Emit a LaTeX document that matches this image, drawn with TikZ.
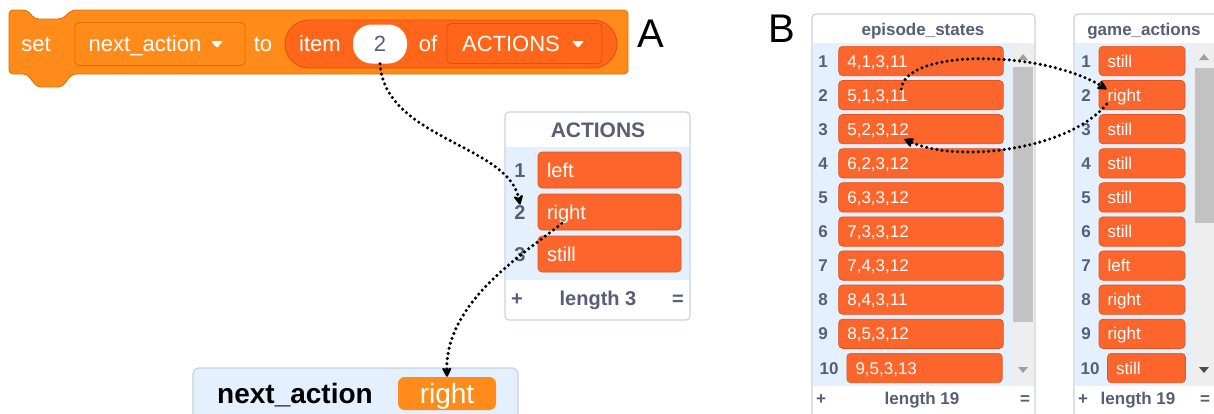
\documentclass[tikz,border=0pt]{standalone}
\usepackage{fontspec}
\setmainfont{Liberation Sans}
\usetikzlibrary{arrows.meta,calc}
\definecolor{blk}{HTML}{FF8C1A}
\definecolor{blkdark}{HTML}{DB6E00}
\definecolor{listor}{HTML}{FF661A}
\definecolor{listdark}{HTML}{E04F0C}
\definecolor{itemor}{HTML}{FC662C}
\definecolor{itemborder}{HTML}{E2531A}
\definecolor{monbody}{HTML}{E5F0FF}
\definecolor{monb}{HTML}{C9D1DC}
\definecolor{mgray}{HTML}{575E75}
\definecolor{trackc}{HTML}{EEEEEE}
\definecolor{thumbc}{HTML}{C2C2C2}
\definecolor{arrc}{HTML}{A0A0A0}
\tikzset{
  capc/.style={inner sep=0pt, text depth=0pt},
  btxt/.style={capc, text height=11.9pt, text=white, font=\fontsize{16.5}{19}\selectfont},
  field/.style={draw=blkdark, fill=blk, rounded corners=3pt, line width=0.6pt, inner sep=0pt},
  lfield/.style={draw=listdark, fill=listor, rounded corners=3pt, line width=0.6pt, inner sep=0pt},
  pill/.style={draw=listdark, fill=listor, rounded corners=18pt, line width=0.6pt, inner sep=0pt},
  monframe/.style={draw=monb, fill=white, rounded corners=3pt, line width=0.8pt},
  hdrA/.style={capc, text height=11.3pt, text=mgray, font=\bfseries\fontsize{15.75}{18}\selectfont},
  idxA/.style={capc, text height=10.8pt, text=mgray, font=\bfseries\fontsize{15}{18}\selectfont},
  itemA/.style={fill=itemor, draw=itemborder, line width=0.5pt, rounded corners=3pt,
     text=white, font=\fontsize{15}{18}\selectfont, align=left,
     inner xsep=6.75pt, inner ysep=0pt, text width=93.75pt, minimum height=27pt,
     text height=10.8pt, text depth=0pt},
  hdrB/.style={capc, text height=9.2pt, text=mgray, font=\bfseries\fontsize{12.75}{15}\selectfont},
  idxB/.style={capc, text height=9.2pt, text=mgray, font=\bfseries\fontsize{12.75}{15}\selectfont},
  itemB/.style={fill=itemor, draw=itemborder, line width=0.5pt, rounded corners=3pt,
     text=white, font=\fontsize{12.75}{15}\selectfont, align=left,
     inner xsep=6.5pt, inner ysep=0pt, minimum height=22pt,
     text height=9.2pt, text depth=0pt},
  dotarrow/.style={draw=black, line width=2.6pt, line cap=round,
     dash pattern=on 0pt off 3.9pt,
     -{Stealth[length=9pt,width=9pt,round]}},
  biglabel/.style={capc, text height=21.6pt, text=black, font=\fontsize{30}{34}\selectfont}
}
\begin{document}
\begin{tikzpicture}[x=0.75pt,y=-0.75pt]
\clip (0,0) rectangle (1214,414);
\fill[white] (0,0) rectangle (1214,414);

% ---------------- Panel A: set block ----------------
\draw[fill=blk, draw=blkdark, line width=0.6pt, rounded corners=3pt]
  (9,10) -- (27,10) -- (35,19) -- (62,19) -- (72,10) -- (628,10) -- (628,74)
  -- (72,74) -- (62,87) -- (37,87) -- (27,74) -- (9,74) -- cycle;
\node[btxt] (settxt) at (36,44) {set};
\node[field, minimum width=127.5pt, minimum height=32.25pt] (varf) at (160,44) {};
\node[btxt] (vartxt) at (145,44) {next\_action};
\fill[white, rounded corners=0.8pt] (211,41) -- (223,41) -- (217,48) -- cycle;
\node[btxt] (totxt) at (263,44) {to};
\node[pill, minimum width=249pt, minimum height=36pt] (itemr) at (451,44) {};
\node[btxt] (itemtxt) at (320,44) {item};
\node[fill=white, rounded corners=14pt, minimum width=40.5pt, minimum height=29.25pt,
      inner sep=0pt, text=mgray, text height=11.9pt, text depth=0pt,
      font=\fontsize{16.5}{19}\selectfont] (two) at (380,44) {2};
\node[btxt] (oftxt) at (428,44) {of};
\node[lfield, minimum width=116.25pt, minimum height=30pt] (actf) at (524.5,43.5) {};
\node[btxt] (acttxt) at (511,44) {ACTIONS};
\fill[white, rounded corners=0.8pt] (572,41) -- (584,41) -- (578,48) -- cycle;
\node[biglabel] (labA) at (651,33) {A};

% ---------------- ACTIONS monitor ----------------
\draw[monframe] (505,112) rectangle (690,320);
\fill[monbody] (505.6,147) rectangle (689.4,280);
\node[hdrA] (actHdr) at (598,130) {ACTIONS};
\foreach \i/\t in {1/left,2/right,3/still}{
  \pgfmathsetmacro\yy{170+42*(\i-1)}
  \node[idxA] (ai\i) at (520,\yy) {\i};
  \node[itemA] (act\i) at (609.5,\yy) {\t};
}
\node[idxA] (aplus) at (517,298) {+};
\node[idxA] (alen) at (598,298) {length 3};
\node[idxA] (aeq) at (678,298) {=};

% ---------------- next_action monitor ----------------
\draw[draw=monb, fill=monbody, rounded corners=4pt, line width=0.8pt] (193,368) rectangle (518,440);
\node[capc, text height=15.1pt, text=black, font=\bfseries\fontsize{21}{24}\selectfont] (navlab) at (295,393) {next\_action};
\node[fill=blk, rounded corners=5pt, minimum width=73.5pt, minimum height=24.75pt,
      inner sep=0pt, text=white, text height=15.1pt, text depth=0pt,
      font=\fontsize{21}{24}\selectfont] (navval) at (447,393.5) {right};

% arrows in A
\draw[dotarrow] (two.south) .. controls +(5,75) and +(-12,-60) .. (ai2.north);
\draw[dotarrow] ($(act2.south west)+(24,-7)$) .. controls +(-32,27) and +(-2,-77) .. (navval.north);

% ---------------- Panel B ----------------
\node[biglabel] (labB) at (782,28) {B};

% episode_states
\draw[monframe] (812,14) rectangle (1035,440);
\fill[monbody] (812.6,43) rectangle (1034.4,386);
\fill[trackc] (1011,44) rectangle (1034.4,385);
\fill[thumbc] (1013,67) rectangle (1033,322);
\fill[arrc] (1018,60) -- (1028,60) -- (1023,54) -- cycle;
\fill[arrc] (1018,367) -- (1028,367) -- (1023,373) -- cycle;
\node[hdrB] (esHdr) at (923,29) {episode\_states};
\foreach \i/\t in {1/{4,1,3,11},2/{5,1,3,11},3/{5,2,3,12},4/{6,2,3,12},5/{6,3,3,12},
                   6/{7,3,3,12},7/{7,4,3,12},8/{8,4,3,11},9/{8,5,3,12}}{
  \pgfmathsetmacro\yy{61+34.1*(\i-1)}
  \node[idxB] (esi\i) at (823,\yy) {\i};
  \node[itemB, text width=110.5pt] (es\i) at (921,\yy) {\t};
}
\node[idxB] (esi10) at (829,368) {10};
\node[itemB, text width=103.5pt] (es10) at (924.5,368) {9,5,3,13};
\node[idxB] (esplus) at (821,398) {+};
\node[idxB] (eslen) at (922,398) {length 19};
\node[idxB] (eseq) at (1025,398) {=};

% game_actions
\draw[monframe] (1074,14) rectangle (1240,440);
\fill[monbody] (1074.6,43) rectangle (1239,386);
\fill[trackc] (1192,44) rectangle (1214,385);
\fill[thumbc] (1195,68) rectangle (1214,223);
\fill[arrc] (1199,60) -- (1209,60) -- (1204,54) -- cycle;
\fill[black!70] (1199,367) -- (1209,367) -- (1204,373) -- cycle;
\node[hdrB] (gaHdr) at (1144,29) {game\_actions};
\foreach \i/\t in {1/still,2/right,3/still,4/still,5/still,6/still,7/left,8/right,9/right}{
  \pgfmathsetmacro\yy{61+34.1*(\i-1)}
  \node[idxB] (gai\i) at (1086,\yy) {\i};
  \node[itemB, text width=51.5pt] (ga\i) at (1142,\yy) {\t};
}
\node[idxB] (gai10) at (1090,368) {10};
\node[itemB, text width=45.5pt] (ga10) at (1146.5,368) {still};
\node[idxB] (gaplus) at (1083,398) {+};
\node[idxB] (galen) at (1138,398) {length 19};
\node[idxB] (gaeq) at (1205,398) {=};

% arrows in B
\draw[dotarrow] ($(es2.north west)+(63,9)$) .. controls +(3,-40) and +(-67,-40) .. ($(ga2.west)+(8,-6)$);
\draw[dotarrow] ($(ga2.west)+(8,9)$) .. controls +(-37,45) and +(55,25) .. ($(es3.south west)+(66,-5)$);
\end{tikzpicture}
\end{document}
